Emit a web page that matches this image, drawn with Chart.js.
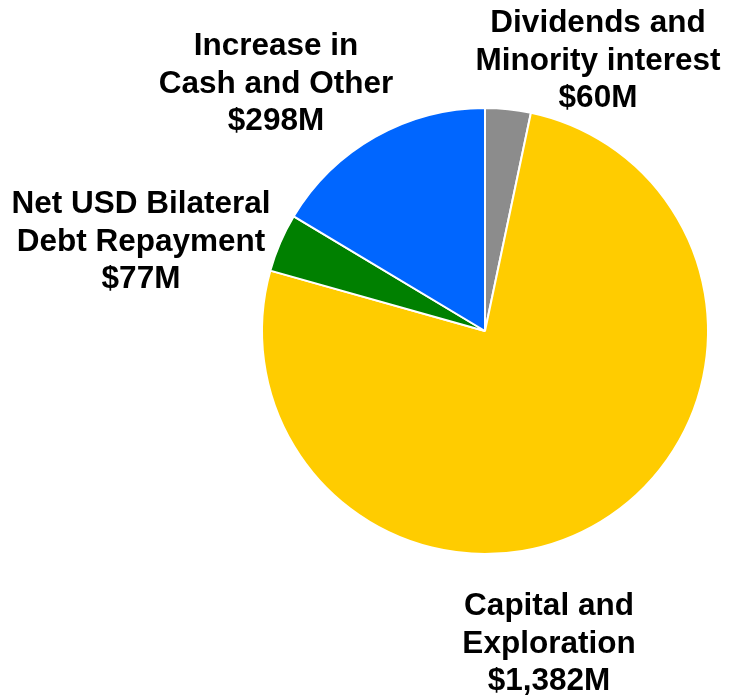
<!DOCTYPE html>
<html>
<head>
<meta charset="utf-8">
<script src="https://cdn.jsdelivr.net/npm/chart.js@4"></script>
<style>
html,body{margin:0;padding:0;background:#fff;}
#wrap{width:729px;height:696px;position:relative;}
</style>
</head>
<body>
<div id="wrap"><canvas id="c" width="729" height="696"></canvas></div>
<script>
const categories = ["Dividends and Minority interest", "Capital and Exploration", "Net USD Bilateral Debt Repayment", "Increase in Cash and Other"];
const values = [60, 1382, 77, 298];
const valueLabels = ["$60M", "$1,382M", "$77M", "$298M"];
const labelLines = [
  ["Dividends and", "Minority interest", "$60M"],
  ["Capital and", "Exploration", "$1,382M"],
  ["Net USD Bilateral", "Debt Repayment", "$77M"],
  ["Increase in", "Cash and Other", "$298M"]
];
const colors = ["#8c8c8c", "#ffcc00", "#008000", "#0066ff"];

// label anchors relative to pie centre (x centre, first-line baseline)
const labelOffsets = [[113, -299], [64, 284], [-344, -118], [-209, -276]];

const labelPlugin = {
  id: 'sliceLabels',
  afterDatasetsDraw(chart) {
    const ctx = chart.ctx;
    const arc = chart.getDatasetMeta(0).data[0];
    const cx = arc.x, cy = arc.y;
    ctx.save();
    ctx.fillStyle = '#000';
    ctx.font = 'bold 31.5px "Liberation Sans", Arial, sans-serif';
    ctx.textAlign = 'center';
    ctx.textBaseline = 'alphabetic';
    labelLines.forEach((lines, i) => {
      const [dx, dy] = labelOffsets[i];
      lines.forEach((t, j) => {
        ctx.fillText(t, cx + dx, cy + dy + j * 37.5);
      });
    });
    ctx.restore();
  }
};

new Chart(document.getElementById('c'), {
  type: 'pie',
  data: {
    labels: categories,
    datasets: [{
      data: values,
      backgroundColor: colors,
      borderColor: '#ffffff',
      borderWidth: 2
    }]
  },
  options: {
    responsive: false,
    animation: false,
    layout: { padding: { left: 261, right: 20, top: 107, bottom: 141 } },
    plugins: { legend: { display: false }, tooltip: { enabled: false } }
  },
  plugins: [labelPlugin]
});
</script>
</body>
</html>
